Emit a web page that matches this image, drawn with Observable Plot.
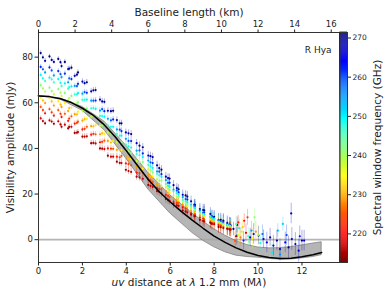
<!DOCTYPE html>
<html><head><meta charset="utf-8">
<script src="https://cdn.jsdelivr.net/npm/d3@7"></script>
<script src="https://cdn.jsdelivr.net/npm/@observablehq/plot@0.6"></script>
<style>body{margin:0;background:white;}#wrap{position:relative;width:389px;height:297px;}#wrap svg{position:absolute;left:0;top:0;}</style>
</head><body><div id="wrap"></div>
<script>
// uv grids (Mλ) and error bars (mJy)
const uvA = [0.1,0.5,0.9,1.2,1.5,1.8,2.2,2.6,3.0,3.4,3.78,4.22,4.75,5.2,5.6,5.97,6.38,6.78,7.13,7.55,8.0,8.42,8.75];
const uvB = [0.3,0.7,1.05,1.35,1.65,2.0,2.4,2.8,3.16,3.57,3.98,4.47,5.0,5.4,5.8,6.15,6.57,6.95,7.35,7.83,8.2,8.6];
const uvC = [0.2,0.6,1.0,1.4,1.75,2.1,2.5,2.9,3.3,3.7,4.1,4.6,5.1,5.5,5.9,6.3,6.7,7.1,7.5,7.9,8.3,8.7];
const errA = [1.0,1.0,1.0,1.1,1.1,1.1,1.2,1.2,1.3,1.3,1.4,1.5,1.6,1.7,1.8,1.9,2.0,2.2,2.4,2.6,2.8,3.0,3.3];
const errB = [1.0,1.0,1.1,1.1,1.1,1.2,1.2,1.3,1.3,1.4,1.5,1.6,1.7,1.8,1.9,2.0,2.1,2.3,2.5,2.7,2.9,3.1];
const errC = [1.0,1.0,1.0,1.1,1.1,1.2,1.2,1.3,1.3,1.4,1.5,1.6,1.7,1.8,1.9,2.0,2.1,2.3,2.5,2.7,2.9,3.2];

// spectral windows (GHz) and amplitudes (mJy)
const amp271 = [81.8,80.3,79.2,77.9,75.4,73.3,69.0,65.6,60.4,56.5,51.0,46.3,40.5,36.2,30.7,26.8,22.1,18.9,15.2,12.9,10.0,8.4,6.3];
const amp268 = [78.4,77.9,76.1,74.8,71.8,69.3,65.0,61.4,56.5,52.4,47.0,42.3,36.9,32.6,27.6,23.9,19.7,16.8,13.4,11.3,8.6,7.3];
const amp262 = [75.7,75.5,73.9,72.8,70.4,68.3,64.4,61.0,56.3,52.7,47.6,43.2,37.8,33.6,28.7,24.9,20.7,17.6,14.2,12.0,9.3,7.8,5.9];
const amp255 = [73.3,72.0,71.2,69.0,67.4,64.0,60.9,56.6,53.0,48.3,44.2,39.0,34.7,29.9,26.1,21.9,18.7,15.2,12.8,10.1,8.4,6.4];
const amp250 = [72.2,71.0,70.4,68.5,67.2,64.2,61.4,57.3,53.9,49.5,45.6,40.4,36.2,31.5,27.6,23.2,20.0,16.4,13.9,11.0,9.2,7.0,5.9];
const amp246 = [69.5,69.0,67.4,66.2,63.7,61.3,57.6,54.3,50.1,46.4,41.7,37.5,32.7,28.9,24.4,21.2,17.4,14.9,11.8,10.0,7.6,6.5];
const amp242 = [67.7,66.6,66.0,64.3,63.0,60.2,57.6,53.8,50.5,46.4,42.7,37.9,34.0,29.5,25.9,21.7,18.8,15.3,13.0,10.3,8.6,6.6,5.6];
const amp238 = [64.9,63.7,63.0,61.1,59.5,56.5,53.9,50.0,46.9,42.7,39.1,34.4,30.8,26.5,23.1,19.3,16.6,13.5,11.4,8.9,7.5,5.7];
const amp234 = [62.3,62.1,60.7,59.9,57.9,56.1,52.9,50.2,46.4,43.3,39.2,35.5,31.1,27.7,23.6,20.5,17.0,14.6,11.7,9.9,7.6,6.4,4.8];
const amp229 = [59.9,58.8,58.2,56.4,55.0,52.2,49.8,46.2,43.3,39.4,36.1,31.8,28.4,24.4,21.3,17.8,15.3,12.4,10.5,8.2,6.9,5.2];
const amp225 = [58.2,57.2,56.8,55.2,54.1,51.7,49.5,46.2,43.4,39.8,36.7,32.6,29.2,25.3,22.2,18.7,16.2,13.1,11.2,8.8,7.4,5.6,4.8];
const amp221 = [55.4,54.4,53.8,52.1,50.9,48.3,46.0,42.7,40.0,36.4,33.4,29.4,26.3,22.6,19.7,16.5,14.2,11.5,9.7,7.6,6.4,4.8];
const amp217 = [53.2,52.3,51.9,50.4,49.5,47.2,45.3,42.2,39.7,36.4,33.6,29.7,26.7,23.1,20.3,17.0,14.8,12.0,10.3,8.0,6.8,5.1,4.4];
const amp214 = [51.0,50.8,49.5,48.8,46.8,45.2,42.3,40.0,36.8,34.2,30.6,27.6,24.0,21.3,17.9,15.7,12.8,11.0,8.7,7.4,5.6,4.8];
// windows on grid C
const amp270 = [79.9,78.8,77.8,75.0,72.3,68.6,65.5,60.6,56.3,51.0,46.6,41.2,36.6,31.4,27.0,22.6,19.4,15.4,13.0,10.2,8.7,6.6];
const amp259 = [74.7,74.2,72.6,70.7,67.3,64.7,60.9,57.2,52.3,48.2,43.3,39.1,33.9,29.8,24.9,21.6,17.8,14.8,11.8,10.0,7.9,6.5];
const amp248 = [70.7,70.3,68.7,66.9,63.7,61.3,57.7,54.2,49.5,45.6,41.0,37.0,32.1,28.2,23.6,20.4,16.9,14.0,11.2,9.4,7.5,6.2];
const amp240 = [66.3,65.1,64.4,62.0,59.8,56.7,54.2,50.1,46.5,42.2,38.6,34.1,30.3,25.9,22.4,18.7,16.0,12.7,10.8,8.4,7.2,5.5];
const amp231 = [61.0,60.6,59.2,57.7,54.9,52.8,49.7,46.7,42.6,39.4,35.3,31.9,27.6,24.4,20.3,17.6,14.5,12.1,9.6,8.1,6.4,5.3];
const amp223 = [56.8,55.8,55.2,53.1,51.2,48.6,46.4,42.9,39.9,36.1,33.1,29.2,26.0,22.2,19.2,16.0,13.7,10.9,9.2,7.3,6.2,4.7];
const amp216 = [52.0,51.8,50.5,49.4,46.9,45.2,42.4,39.9,36.4,33.7,30.1,27.3,23.6,20.9,17.3,15.1,12.4,10.3,8.2,6.9,5.5,4.5];

// long-baseline scatter
const scFreq = [266,271,258,250,244,240,236,232,227,222,220,223,241,218,246,262,270,266,255,234,229,271,268,264,270,267,271,269,265,271,268,270,266,271,269,267,252,254,250,256,258,260,263,248,243,238,215,225];
const scUv   = [9.05,8.88,9.04,9.15,9.0,9.25,9.1,9.3,9.2,9.1,9.37,9.52,9.84,9.45,9.55,9.34,9.64,9.8,9.7,9.75,9.9,10.02,10.25,10.4,10.55,10.7,10.86,11.0,11.24,11.39,11.54,11.7,11.85,12.0,12.1,11.51,11.13,10.9,10.63,11.0,10.2,11.3,11.9,10.1,9.6,10.0,9.0,8.95];
const scAmp  = [6.5,4.7,1.8,5.0,6.8,3.5,2.0,5.5,1.0,7.6,8.3,9.8,9.8,3.0,1.5,-0.4,1.0,2.5,4.0,0.5,3.5,1.8,0.3,-1.2,1.0,-2.6,-0.4,-4.1,-1.2,-3.4,0.3,-1.9,-4.8,-0.4,-0.4,11.5,6.9,4.0,-5.6,-6.5,2.5,2.0,1.5,-1.5,-1.0,2.0,1.5,-0.5];
const scErr  = [3.5,3,3.5,4,3.5,4,3.5,4,4,3,3,3.5,4,4,4,4,4,4.5,4,4.5,4.5,4,4,4.5,4,4.5,4.5,4.5,4.5,5,5,5,5,4.5,4.5,4.5,3,3,3.5,3,4,4.5,4.5,4,4,4.5,4,4];

// model curve and its band
const curveUv  = [0,0.5,1,1.5,2,2.5,3,3.5,4,4.5,5,5.5,6,6.5,7,7.5,8,8.5,9,9.5,10,10.5,11,11.5,12,12.5,12.9];
const curveAmp = [63,62.7,61.8,60.1,57.6,54.5,50.3,45.0,39.0,32.6,26.4,21.0,16.5,12.4,8.6,5.0,1.6,-1.2,-3.6,-5.5,-6.9,-7.8,-8.2,-8.1,-7.5,-6.6,-5.6];
const bandUv = [0,1,2,3,4,5,6,7,7.5,8,8.5,9,9.5,10,10.5,11,11.5,12,12.5,12.9];
const bandLo = [63,61.4,56.5,48,35.5,22,11.5,3.0,-0.5,-3.3,-5.5,-7.0,-7.6,-7.9,-8.4,-8.8,-8.7,-8.2,-7.6,-6.8];
const bandHi = [63,61.9,58.2,51.8,41.2,29.3,19.5,11.6,8.0,4.6,1.8,-0.6,-2.3,-3.4,-3.8,-3.7,-3.2,-2.5,-1.7,-1.1];

const xTicks = [0,2,4,6,8,10,12];
const yTicks = [0,20,40,60,80];
const kmTicks = [0,2,4,6,8,10,12,14,16];
const cbTicks = [220,230,240,250,260,270];

const series = [
  [271,amp271,uvA,errA],[270,amp270,uvC,errC],[268,amp268,uvB,errB],[262,amp262,uvA,errA],[259,amp259,uvC,errC],
  [255,amp255,uvB,errB],[250,amp250,uvA,errA],[248,amp248,uvC,errC],[246,amp246,uvB,errB],[242,amp242,uvA,errA],
  [240,amp240,uvC,errC],[238,amp238,uvB,errB],[234,amp234,uvA,errA],[231,amp231,uvC,errC],[229,amp229,uvB,errB],
  [225,amp225,uvA,errA],[223,amp223,uvC,errC],[221,amp221,uvB,errB],[217,amp217,uvA,errA],[216,amp216,uvC,errC],
  [214,amp214,uvB,errB]
];
const points = [];
series.forEach(([f, amps, uv, er]) => {
  amps.forEach((a, i) => points.push({f, uv: uv[i], amp: a, err: er[i]}));
});
scFreq.forEach((f, i) => points.push({f, uv: scUv[i], amp: scAmp[i], err: scErr[i]}));
const curve = curveUv.map((u, i) => ({uv: u, amp: curveAmp[i]}));
const band = bandUv.map((u, i) => ({uv: u, lo: bandLo[i], hi: bandHi[i]}));

function jet(t) {
  const c = v => Math.max(0, Math.min(1, v));
  const r = c(1.5 - Math.abs(4*t - 3)), g = c(1.5 - Math.abs(4*t - 2)), b = c(1.5 - Math.abs(4*t - 1));
  return `rgb(${Math.round(r*255)},${Math.round(g*255)},${Math.round(b*255)})`;
}
const colorScale = {type: "linear", domain: [212.7, 271.4], interpolate: t => jet(1 - t)};
const font = "DejaVu Sans";

const main = Plot.plot({
  width: 389, height: 297, marginLeft: 38, marginRight: 50, marginTop: 32, marginBottom: 35,
  x: {domain: [0, 13.71]}, y: {domain: [-10, 90.8]},
  color: colorScale,
  style: {fontFamily: font, fontSize: "8.5px", color: "#222", background: "white"},
  marks: [
    Plot.ruleY([0], {stroke: "#b4b4b4", strokeWidth: 1.8}),
    Plot.areaY(band, {x: "uv", y1: "lo", y2: "hi", fill: "#a8a8a8", fillOpacity: 0.85, stroke: "#6a6a6a", strokeWidth: 0.6}),
    Plot.ruleX(points, {x: "uv", y1: d => d.amp - d.err, y2: d => d.amp + d.err, stroke: "f", strokeOpacity: 0.3, strokeWidth: 1}),
    Plot.dot(points, {x: "uv", y: "amp", fill: "f", r: 1.1}),
    Plot.line(curve, {x: "uv", y: "amp", stroke: "black", strokeWidth: 1.5}),
    Plot.text(["R Hya"], {frameAnchor: "top-right", dx: -8, dy: 18, lineAnchor: "middle", textAnchor: "end", fontSize: 9}),
    Plot.frame({stroke: "#333"}),
    Plot.axisX(xTicks, {anchor: "bottom", tickSize: 3.5, tickPadding: 2, label: null}),
    Plot.axisX(kmTicks.map(k => k / 1.2), {anchor: "top", tickSize: 3.5, tickPadding: 2, label: null, tickFormat: d => String(Math.round(d * 1.2))}),
    Plot.axisY(yTicks, {anchor: "left", tickSize: 3.5, tickPadding: 2, label: null}),
    Plot.text(["Baseline length (km)"], {frameAnchor: "top", dy: -24, fontSize: 10.5, textAnchor: "middle"}),
    Plot.text(["uv distance at λ 1.2 mm (Mλ)"], {frameAnchor: "bottom", dy: 23, fontSize: 10.5, textAnchor: "middle"}),
    Plot.text(["Visibility amplitude (mJy)"], {frameAnchor: "left", dx: -28, rotate: -90, fontSize: 10.5, textAnchor: "middle", lineAnchor: "middle"})
  ]
});

const steps = d3.range(212.7, 271.4, 0.25);
const cbar = Plot.plot({
  width: 389, height: 297, marginLeft: 339.5, marginRight: 42, marginTop: 32, marginBottom: 35,
  x: {domain: [0, 1], axis: null}, y: {domain: [212.7, 271.4]},
  color: colorScale,
  style: {fontFamily: font, fontSize: "7.5px", color: "#222", background: "none"},
  marks: [
    Plot.rect(steps, {x1: 0, x2: 1, y1: d => d, y2: d => d + 0.3, fill: d => d + 0.125}),
    Plot.frame({stroke: "#333"}),
    Plot.axisY(cbTicks, {anchor: "right", tickSize: 3, tickPadding: 2, label: null}),
    Plot.text(["Spectral window frequency (GHz)"], {frameAnchor: "right", dx: 30, rotate: -90, fontSize: 10.5, textAnchor: "middle", lineAnchor: "middle"})
  ]
});

const wrap = document.getElementById("wrap");
wrap.appendChild(main);
wrap.appendChild(cbar);
main.querySelectorAll("text").forEach(t => {
  if (t.textContent.includes("distance at")) {
    t.innerHTML = '<tspan font-style="italic">uv</tspan> distance at <tspan font-style="italic">λ</tspan> 1.2 mm (M<tspan font-style="italic">λ</tspan>)';
  }
});
</script></body></html>
